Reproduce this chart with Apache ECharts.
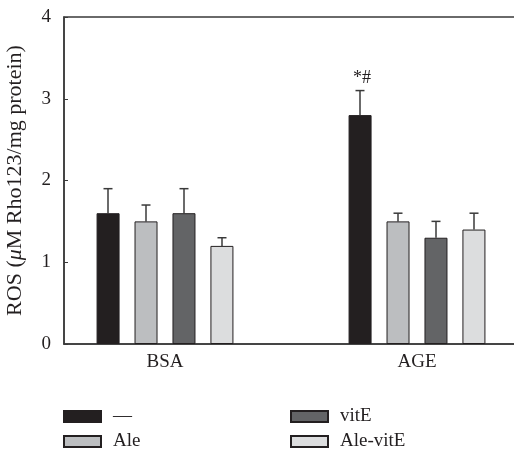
<!DOCTYPE html>
<html>
<head>
<meta charset="utf-8">
<script src="https://cdn.jsdelivr.net/npm/echarts@6/dist/echarts.min.js"></script>
<style>html,body{margin:0;padding:0;background:#fff;}#c{width:514px;height:451px;}</style>
</head>
<body>
<div id="c"></div>
<script>
const categories = ['BSA', 'AGE'];
const seriesNames = ['—', 'Ale', 'vitE', 'Ale-vitE'];
const vals_none = [1.6, 2.8];
const vals_ale = [1.5, 1.5];
const vals_vitE = [1.6, 1.3];
const vals_aleVitE = [1.2, 1.4];
const err_none = [0.3, 0.3];
const err_ale = [0.2, 0.1];
const err_vitE = [0.3, 0.2];
const err_aleVitE = [0.1, 0.2];
const annot_none = ['', '*#'];
const annot_ale = ['', ''];
const annot_vitE = ['', ''];
const annot_aleVitE = ['', ''];
const yTicks = [0, 1, 2, 3, 4];

const values = [vals_none, vals_ale, vals_vitE, vals_aleVitE];
const errors = [err_none, err_ale, err_vitE, err_aleVitE];
const annots = [annot_none, annot_ale, annot_vitE, annot_aleVitE];
const colors = ['#231f20', '#bcbec0', '#636466', '#dcddde'];
const FONT = '"Liberation Serif", "DejaVu Serif", serif';
const BAR_W = 23, PITCH = 38;

const chart = echarts.init(document.getElementById('c'), null, {renderer: 'canvas'});

const barSeries = seriesNames.map((n, i) => ({
  name: n, type: 'bar', xAxisIndex: 1, yAxisIndex: 1,
  data: values[i], barWidth: BAR_W, barGap: '65%',
  itemStyle: {color: colors[i], borderColor: '#231f20', borderWidth: 1},
  emphasis: {disabled: true}, z: 3
}));

const errSeries = seriesNames.map((n, i) => ({
  name: n + '_err', type: 'custom', xAxisIndex: 1, yAxisIndex: 1,
  data: categories.map((c, k) => [k, values[i][k], errors[i][k]]),
  z: 2,
  renderItem: function (params, api) {
    const k = api.value(0);
    const v = api.value(1), e = api.value(2);
    const base = api.coord([k, v]);
    const top = api.coord([k, v + e]);
    const x = base[0] + (i - 1.5) * PITCH;
    const cap = 4.5;
    const children = [
      {type: 'line', shape: {x1: x, y1: base[1], x2: x, y2: top[1]}, style: {stroke: '#3a3a3a', lineWidth: 1.5}},
      {type: 'line', shape: {x1: x - cap, y1: top[1], x2: x + cap, y2: top[1]}, style: {stroke: '#3a3a3a', lineWidth: 1.5}}
    ];
    const t = annots[i][k];
    if (t) {
      children.push({type: 'text', style: {text: t, x: x + 2, y: top[1] - 3, align: 'center', verticalAlign: 'bottom',
        font: '18px ' + FONT, fill: '#231f20'}});
    }
    return {type: 'group', children: children};
  }
}));

const legendCommon = {orient: 'vertical', top: 407, height: 60, padding: 0, itemWidth: 37, itemHeight: 11, itemGap: 6,
  icon: 'rect', textStyle: {fontSize: 19, color: '#231f20', fontFamily: FONT, padding: [0, 0, 0, 7]}, selectedMode: false};

const option = {
  animation: false,
  backgroundColor: '#fff',
  textStyle: {fontFamily: FONT},
  grid: [
    {left: 64, right: -6, top: 17, bottom: 107, show: true, borderColor: '#3a3a3a', borderWidth: 1.5,
      backgroundColor: 'transparent', outerBoundsMode: 'none', containLabel: false},
    {left: 39, width: 504, top: 17, bottom: 107, outerBoundsMode: 'none', containLabel: false}
  ],
  xAxis: [
    {gridIndex: 0, type: 'category', data: [''], axisLine: {show: true, lineStyle: {color: '#3a3a3a', width: 1.5}}, axisTick: {show: false}, axisLabel: {show: false}},
    {gridIndex: 1, type: 'category', data: categories, axisLine: {show: false}, axisTick: {show: false},
      axisLabel: {fontSize: 19, color: '#231f20', fontFamily: FONT, margin: 9}}
  ],
  yAxis: [
    {gridIndex: 0, type: 'value', min: yTicks[0], max: yTicks[yTicks.length - 1], interval: 1,
      axisLine: {show: true, lineStyle: {color: '#3a3a3a', width: 1.5}},
      axisTick: {show: true, inside: true, length: 4, lineStyle: {color: '#3a3a3a'}},
      splitLine: {show: false},
      axisLabel: {fontSize: 19, color: '#231f20', fontFamily: FONT, margin: 13},
      name: '{n|ROS (}{i|μ}{n|M Rho123/mg protein)}', nameLocation: 'middle', nameGap: 38,
      nameTextStyle: {fontSize: 22, color: '#231f20', fontFamily: FONT,
        rich: {n: {fontSize: 22, fontFamily: FONT, color: '#231f20'}, i: {fontSize: 22, fontStyle: 'italic', fontFamily: FONT, color: '#231f20'}}}
    },
    {gridIndex: 1, type: 'value', min: 0, max: 4, show: false, splitLine: {show: false}}
  ],
  legend: [
    Object.assign({}, legendCommon, {data: [seriesNames[0], seriesNames[1]], left: 63}),
    Object.assign({}, legendCommon, {data: [seriesNames[2], seriesNames[3]], left: 290})
  ],
  series: barSeries.concat(errSeries)
};
chart.setOption(option);
</script>
</body>
</html>
